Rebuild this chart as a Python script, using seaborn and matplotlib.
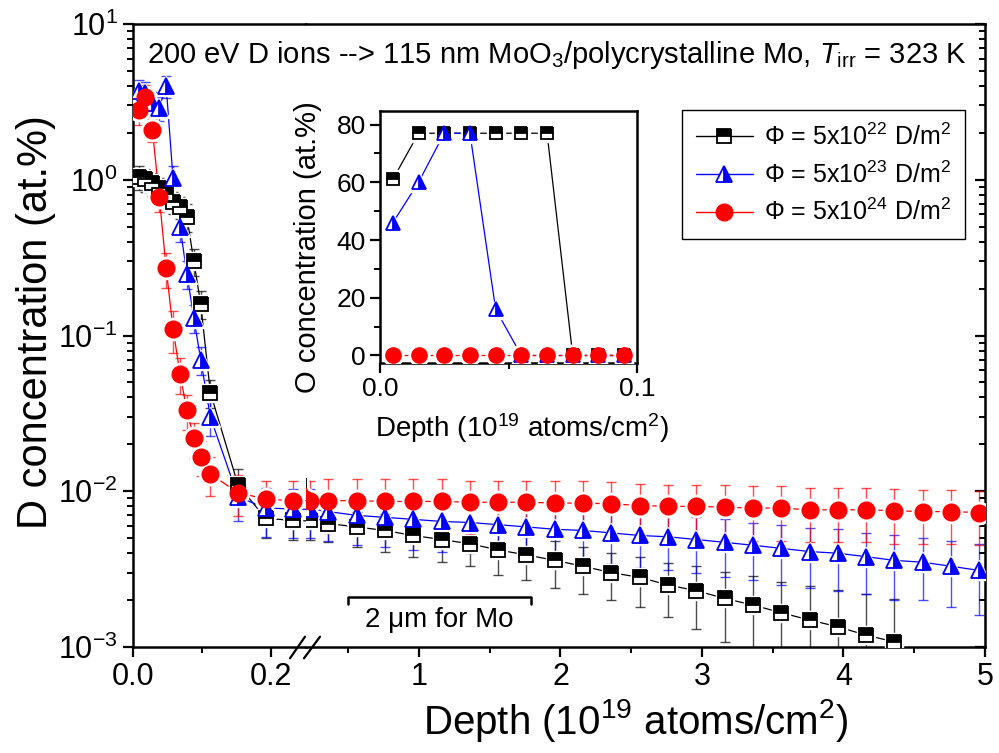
import numpy as np
import pandas as pd
import seaborn as sns
import matplotlib.pyplot as plt
from matplotlib.lines import Line2D
from matplotlib.ticker import LogLocator, LogFormatterMathtext, NullFormatter

# depth in 10^19 atoms/cm^2 (same grid for all three fluences)
depth = [0.008, 0.018, 0.028, 0.038, 0.048, 0.058, 0.068, 0.078, 0.088, 0.098, 0.112, 0.152, 0.192, 0.232,
         0.36, 0.56, 0.76, 0.96, 1.16, 1.36, 1.56, 1.76, 1.96, 2.16, 2.36, 2.56, 2.76, 2.96,
         3.16, 3.36, 3.56, 3.76, 3.96, 4.16, 4.36, 4.56, 4.76, 4.96]

# D concentration (at.%)
conc_22 = [1.04, 1.01, 0.95, 0.88, 0.81, 0.72, 0.67, 0.58, 0.30, 0.16, 0.043, 0.011, 0.0067, 0.0065,
           0.0062, 0.0059, 0.0056, 0.0052, 0.0049, 0.0046, 0.0042, 0.0039, 0.0036, 0.0033, 0.0030,
           0.0028, 0.0025, 0.0023, 0.00205, 0.00186, 0.00166, 0.00149, 0.00135, 0.00119, 0.00108]
err_22 = [0.18, 0.17, 0.16, 0.15, 0.14, 0.12, 0.11, 0.12, 0.06, 0.032, 0.0086, 0.0028, 0.0017, 0.0016,
          0.0015, 0.0015, 0.0015, 0.0014, 0.0014, 0.0013, 0.0013, 0.0012, 0.0012, 0.0011, 0.0010,
          0.0010, 0.00095, 0.00099, 0.00098, 0.00099, 0.00096, 0.00097, 0.00097, 0.00101, 0.00094]

conc_23 = [3.7, 3.6, 3.1, 2.9, 4.0, 1.02, 0.50, 0.25, 0.13, 0.070, 0.030, 0.0092, 0.0078, 0.0077,
           0.0074, 0.0070, 0.0068, 0.0066, 0.0064, 0.0063, 0.0061, 0.0059, 0.0057, 0.0056, 0.0054, 0.0052,
           0.0051, 0.0049, 0.0047, 0.0045, 0.0043, 0.0041, 0.0040, 0.0038, 0.0036, 0.0035, 0.0033, 0.0031]
err_23 = [0.67, 0.65, 0.56, 0.52, 0.64, 0.20, 0.10, 0.05, 0.026, 0.014, 0.0075, 0.0028, 0.0027, 0.0027,
          0.0026, 0.0025, 0.0024, 0.0024, 0.0023, 0.0023, 0.0022, 0.0022, 0.0021, 0.0021, 0.0020, 0.0020,
          0.0020, 0.0019, 0.0019, 0.0018, 0.0018, 0.0017, 0.0017, 0.0016, 0.0016, 0.0015, 0.0015, 0.0015]

conc_24 = [2.8, 3.4, 2.1, 0.78, 0.27, 0.11, 0.057, 0.033, 0.022, 0.0167, 0.0129, 0.0098, 0.0089, 0.0087,
           0.0087, 0.0087, 0.0086, 0.0086, 0.0086, 0.0085, 0.0085, 0.0085, 0.0084, 0.0084, 0.0083, 0.0081,
           0.0080, 0.0080, 0.0079, 0.0078, 0.0078, 0.0076, 0.0076, 0.0076, 0.0075, 0.0074, 0.0074, 0.0073]
err_24 = [0.56, 0.65, 0.36, 0.16, 0.068, 0.033, 0.015, 0.0083, 0.0056, 0.0042, 0.0036, 0.0029, 0.0028, 0.0029,
          0.0033, 0.0033, 0.0033, 0.0033, 0.0033, 0.0032, 0.0032, 0.0032, 0.0032, 0.0032, 0.0032, 0.0031,
          0.0030, 0.0030, 0.0030, 0.0030, 0.0030, 0.0029, 0.0029, 0.0029, 0.0029, 0.0028, 0.0028, 0.0028]

# inset: O concentration (at.%)
inset_depth = [0.005, 0.015, 0.025, 0.035, 0.045, 0.055, 0.065, 0.075, 0.085, 0.095]
o_22 = [61, 77, 77, 77, 77, 77, 77, 0, 0, 0]
o_23 = [46, 60, 77, 77, 16, 0, 0, 0, 0, 0]
o_24 = [0, 0, 0, 0, 0, 0, 0, 0, 0, 0]

labels = [r'$\Phi$ = 5x10$^{22}$ D/m$^{2}$', r'$\Phi$ = 5x10$^{23}$ D/m$^{2}$', r'$\Phi$ = 5x10$^{24}$ D/m$^{2}$']

sns.set_theme(style='ticks')
plt.rcParams['font.family'] = ['Liberation Sans', 'DejaVu Sans']
plt.rcParams['mathtext.fontset'] = 'custom'
plt.rcParams['mathtext.rm'] = 'Liberation Sans'
plt.rcParams['mathtext.it'] = 'Liberation Sans:italic'
plt.rcParams['mathtext.bf'] = 'Liberation Sans:bold'
plt.rcParams['axes.edgecolor'] = 'black'
plt.rcParams['text.color'] = 'black'
plt.rcParams['xtick.color'] = 'black'
plt.rcParams['ytick.color'] = 'black'

W, H = 999, 753
def box(x0, y0, x1, y1):
    return [x0 / W, 1 - y1 / H, (x1 - x0) / W, (y1 - y0) / H]

fig = plt.figure(figsize=(9.99, 7.53), dpi=100)
ax_l = fig.add_axes(box(133, 24, 305.7, 647))
ax_l.set_yscale('log')
ax_r = fig.add_axes(box(305.7, 24, 985, 647), sharey=ax_l)
ax_l.set_xlim(0, 0.25)
ax_r.set_xlim(0.2, 5)

styles = [
    dict(color='black', marker='s', ms=9.5, fillstyle='top', mfc='black', mfcalt='white', mec='black', mew=1.3),
    dict(color='blue', marker='^', ms=11, fillstyle='right', mfc='blue', mfcalt='white', mec='blue', mew=1.3),
    dict(color='red', marker='o', ms=12, fillstyle='full', mfc='red', mec='red', mew=1),
]
main_data = [(conc_22, err_22), (conc_23, err_23), (conc_24, err_24)]

for ax in (ax_l, ax_r):
    lo, hi = ax.get_xlim()
    for (vals, errs), st in zip(main_data, styles):
        x = depth[:len(vals)]
        keep = [i for i, d in enumerate(x) if lo <= d <= hi]
        ax.errorbar([x[i] for i in keep], [vals[i] for i in keep], yerr=[errs[i] for i in keep],
                    fmt='none', ecolor=st['color'], elinewidth=1,
                    capsize=3.5, capthick=1, alpha=0.7, zorder=2)
        sns.lineplot(x=x, y=vals, ax=ax, color=st['color'], lw=0.9, sort=False,
                     estimator=None, legend=False, zorder=2)
        ax.plot(x, vals, ls='none', marker=st['marker'], ms=st['ms'] + 4, mfc='white',
                mec='white', zorder=3)
        ax.plot(x, vals, ls='none', zorder=4, **{k: v for k, v in st.items() if k != 'color'})

ax_l.set_ylim(1e-3, 10)
ax_l.yaxis.set_major_locator(LogLocator(base=10, numticks=10))
ax_l.yaxis.set_major_formatter(LogFormatterMathtext())
ax_l.yaxis.set_minor_locator(LogLocator(base=10, subs=np.arange(2, 10), numticks=20))
ax_l.yaxis.set_minor_formatter(NullFormatter())

ax_l.set_xlim(0, 0.25)
ax_l.set_xticks([0, 0.2])
ax_l.set_xticklabels(['0.0', '0.2'])
ax_l.set_xticks([0.1], minor=True)
ax_r.set_xlim(0.2, 5)
ax_r.set_xticks([1, 2, 3, 4, 5])
ax_r.set_xticklabels(['1', '2', '3', '4', '5'])
ax_r.set_xticks([0.5, 1.5, 2.5, 3.5, 4.5], minor=True)

for ax in (ax_l, ax_r):
    for s in ax.spines.values():
        s.set_linewidth(1.8)
    ax.set_xlabel('')
    ax.set_ylabel('')
ax_l.spines['right'].set_visible(False)
ax_r.spines['left'].set_visible(False)

ax_l.tick_params(axis='both', which='major', direction='out', length=7, width=1.6, labelsize=22, pad=4)
ax_l.tick_params(axis='both', which='minor', direction='out', length=4, width=1.4)
ax_l.tick_params(axis='y', right=False)
ax_r.tick_params(axis='x', which='major', direction='out', length=7, width=1.6, labelsize=22, pad=4)
ax_r.tick_params(axis='x', which='minor', direction='out', length=4, width=1.4)
ax_r.tick_params(axis='y', which='both', left=False, labelleft=False, right=True, direction='in')
ax_r.tick_params(axis='y', which='major', length=7, width=1.6)
ax_r.tick_params(axis='y', which='minor', length=4, width=1.4)

# axis break marks
for xs in ((290, 305), (304, 320)):
    fig.add_artist(Line2D([xs[0] / W, xs[1] / W], [1 - 658.3 / H, 1 - 636.7 / H],
                          color='black', lw=1.6))

# "2 um for Mo" bracket
ax_r.plot([0.5, 0.5, 1.79, 1.79], [0.00189, 0.0021, 0.0021, 0.00189], color='black', lw=1.8)
ax_r.text(1.145, 0.00149, '2 \u03bcm for Mo', ha='center', va='center', fontsize=20)

fig.text(147 / W, 1 - 55 / H,
         r'200 eV D ions --> 115 nm MoO$_3$/polycrystalline Mo, $T_{\mathrm{irr}}$ = 323 K',
         fontsize=21, va='center', ha='left')
fig.text(36 / W, 1 - 322 / H, 'D concentration (at.%)', rotation=90, fontsize=30,
         ha='center', va='center')
fig.text(636 / W, 1 - 720 / H, r'Depth (10$^{19}$ atoms/cm$^{2}$)', fontsize=29,
         ha='center', va='center')

# legend
handles = [Line2D([], [], lw=1, **st) for st in styles]
leg = fig.legend(handles, labels, loc='upper right', bbox_to_anchor=(965 / W, 1 - 110 / H),
                 frameon=True, fancybox=False, edgecolor='black', framealpha=1, fontsize=18,
                 handlelength=2.3, borderaxespad=0, labelspacing=0.45, borderpad=0.55,
                 handletextpad=0.45)
leg.get_frame().set_linewidth(1)

# inset
ax_in = fig.add_axes(box(380, 111, 637, 363))
inset_data = [o_22, o_23, o_24]
for vals, st in zip(inset_data, styles):
    sns.lineplot(x=inset_depth, y=vals, ax=ax_in, color=st['color'], lw=0.9, sort=False,
                 estimator=None, legend=False, zorder=2)
    ax_in.plot(inset_depth, vals, ls='none', marker=st['marker'], ms=st['ms'] + 3, mfc='white',
               mec='white', zorder=3)
    small = dict(st)
    small['ms'] = st['ms'] - 1
    ax_in.plot(inset_depth, vals, ls='none', zorder=4, **{k: v for k, v in small.items() if k != 'color'})

ax_in.set_xlim(0, 0.1)
ax_in.set_ylim(-2.6, 84.7)
ax_in.set_xticks([0, 0.1])
ax_in.set_xticklabels(['0.0', '0.1'])
ax_in.set_xticks([0.05], minor=True)
ax_in.set_yticks([0, 20, 40, 60, 80])
ax_in.set_yticks([10, 30, 50, 70], minor=True)
ax_in.set_xlabel('')
ax_in.set_ylabel('')
for s in ax_in.spines.values():
    s.set_linewidth(1.8)
ax_in.tick_params(axis='both', which='major', direction='out', length=7, width=1.6, labelsize=19, pad=3)
ax_in.tick_params(axis='both', which='minor', direction='out', length=4, width=1.4)
fig.text(308 / W, 1 - 247 / H, 'O concentration (at.%)', rotation=90, fontsize=21,
         ha='center', va='center')
fig.text(522 / W, 1 - 428 / H, r'Depth (10$^{19}$ atoms/cm$^{2}$)', fontsize=20,
         ha='center', va='center')

fig.savefig('out.png', dpi=100)
